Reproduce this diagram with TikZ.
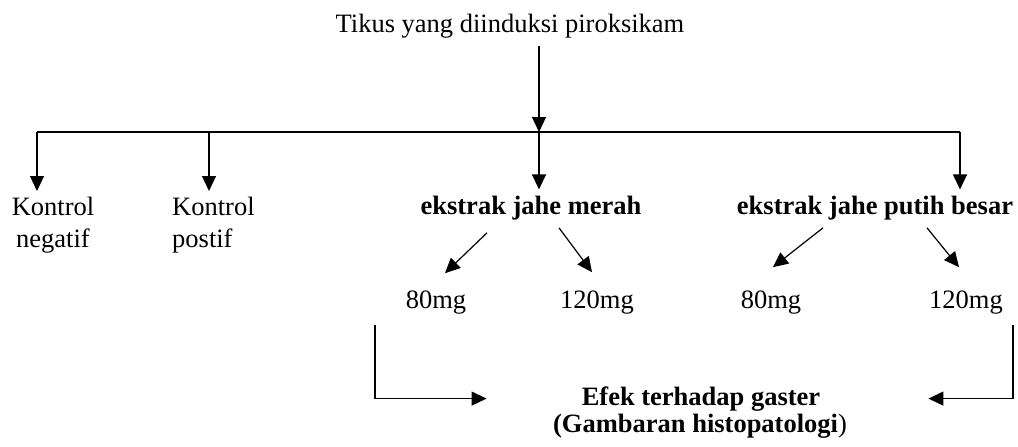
\documentclass[tikz,border=0pt]{standalone}
\usepackage{fontspec}
\setmainfont{Liberation Serif}
\usetikzlibrary{arrows.meta}
\begin{document}
\begin{tikzpicture}[x=1pt,y=-1pt,
  arr/.style={line width=1.2pt,-{Triangle[length=15pt,width=14pt]}},
  ln/.style={line width=1.2pt},
  txt/.style={inner xsep=0pt,inner ysep=6pt,font=\fontsize{26.5}{32}\selectfont},
  btxt/.style={txt,font=\fontsize{26.5}{32}\selectfont\bfseries}]
\useasboundingbox (0,0) rectangle (1018,447);
% text nodes
\node[txt,anchor=base] (title) at (510,32) {Tikus yang diinduksi piroksikam};
\node[txt,anchor=north,align=center] (kn) at (53,191) {Kontrol\\negatif};
\node[txt,anchor=north west,align=left] (kp) at (172,191) {Kontrol\\postif};
\node[btxt,anchor=base] (em) at (531,214) {ekstrak jahe merah};
\node[btxt,anchor=base] (ep) at (875,214) {ekstrak jahe putih besar};
\node[txt,anchor=base] (m80) at (436,308) {80mg};
\node[txt,anchor=base] (m120) at (597,308) {120mg};
\node[txt,anchor=base] (p80) at (771,308) {80mg};
\node[txt,anchor=base] (p120) at (966,308) {120mg};
\node[btxt,anchor=base] (efek) at (701,405) {Efek terhadap gaster};
\node[btxt,anchor=base] (gamb) at (700,432) {(Gambaran histopatologi\textnormal{)}};
% bus coordinates
\coordinate (b1) at (37,132);
\coordinate (b2) at (209,132);
\coordinate (jn) at (539,132);
\coordinate (b4) at (960,132);
\coordinate (l1) at (375,325);
\coordinate (r1) at (1013,325);
% connectors
\draw[arr] ([yshift=-2pt]title.south -| jn) -- (jn);
\draw[ln] (b1) -- (b4);
\draw[arr] (b1) -- (b1 |- kn.north);
\draw[arr] (b2) -- (b2 |- kp.north);
\draw[arr] (jn) -- (jn |- em.north);
\draw[arr] (b4) -- (b4 |- ep.north);
\draw[arr] ([shift={(-44,7)}]em.south) -- ([shift={(9,-11)}]m80.north);
\draw[arr] ([shift={(28,2)}]em.south) -- ([shift={(-5,-12)}]m120.north);
\draw[arr] ([shift={(-52,2)}]ep.south) -- ([shift={(2,-17)}]p80.north);
\draw[arr] ([shift={(52,2)}]ep.south) -- ([shift={(-7,-17)}]p120.north);
\draw[arr] (l1) |- ([xshift=-95pt]efek.west);
\draw[arr] (r1) |- ([xshift=108pt]efek.east);
\end{tikzpicture}
\end{document}
